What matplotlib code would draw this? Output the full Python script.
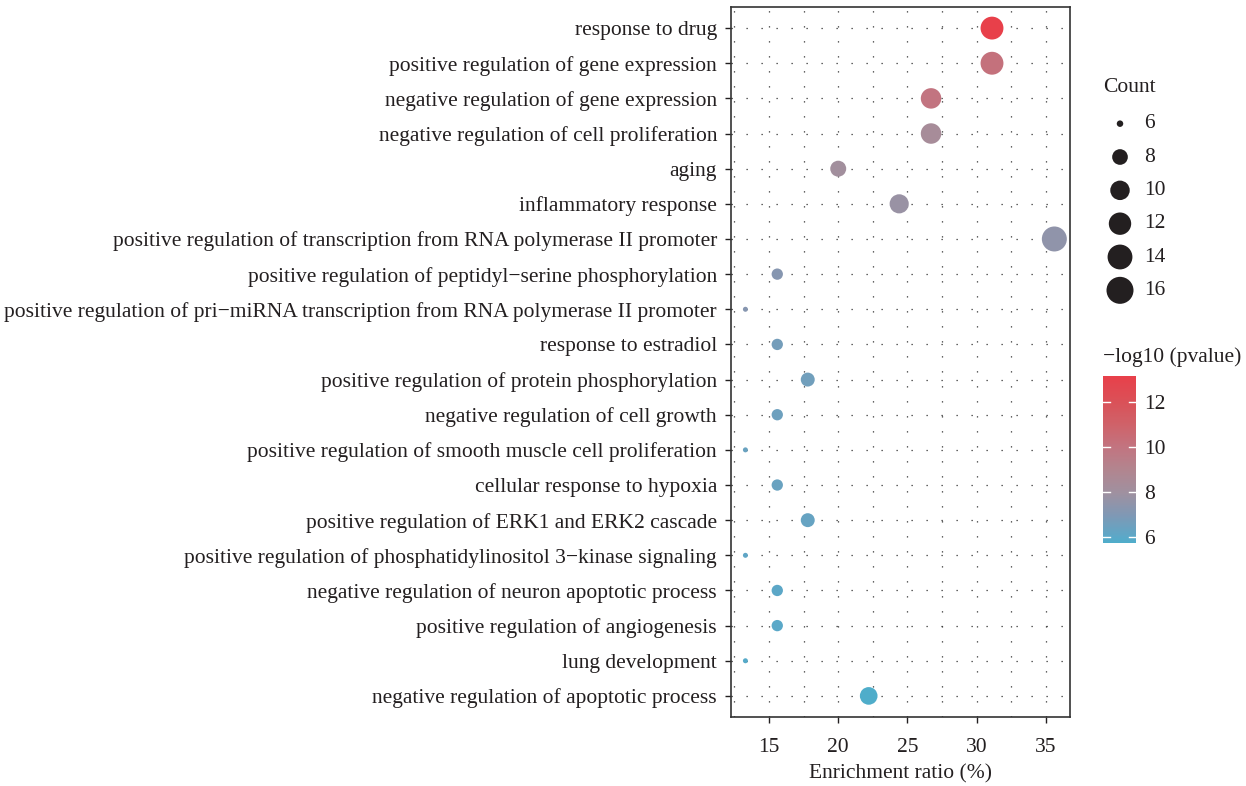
import numpy as np
import matplotlib
matplotlib.use('Agg')
import matplotlib.pyplot as plt
from matplotlib.colors import LinearSegmentedColormap, Normalize

plt.rcParams['font.family'] = ['Liberation Serif', 'DejaVu Serif']
TXT = '#231F20'
FS = 15.5

terms = [
    'response to drug',
    'positive regulation of gene expression',
    'negative regulation of gene expression',
    'negative regulation of cell proliferation',
    'aging',
    'inflammatory response',
    'positive regulation of transcription from RNA polymerase II promoter',
    'positive regulation of peptidyl\u2212serine phosphorylation',
    'positive regulation of pri\u2212miRNA transcription from RNA polymerase II promoter',
    'response to estradiol',
    'positive regulation of protein phosphorylation',
    'negative regulation of cell growth',
    'positive regulation of smooth muscle cell proliferation',
    'cellular response to hypoxia',
    'positive regulation of ERK1 and ERK2 cascade',
    'positive regulation of phosphatidylinositol 3\u2212kinase signaling',
    'negative regulation of neuron apoptotic process',
    'positive regulation of angiogenesis',
    'lung development',
    'negative regulation of apoptotic process',
]
enrich = [31.1, 31.1, 26.7, 26.7, 20.0, 24.4, 35.6, 15.6, 13.3, 15.6,
          17.8, 15.6, 13.3, 15.6, 17.8, 13.3, 15.6, 15.6, 13.3, 22.2]
count = [14, 14, 12, 12, 9, 11, 16, 7, 6, 7, 8, 7, 6, 7, 8, 6, 7, 7, 6, 10]
logp = [13.15, 10.2, 10.0, 8.4, 8.1, 7.8, 7.5, 7.2, 7.2, 6.7,
        6.6, 6.5, 6.4, 6.4, 6.3, 6.1, 6.05, 6.0, 5.9, 5.75]

size_breaks = [6, 8, 10, 12, 14, 16]
cbar_ticks = [6, 8, 10, 12]

# colour stops
stop_vals = [5.75, 6, 7, 8, 9, 10, 11, 12, 13.15]
stop_cols = ['#4FADCA', '#5BA8C8', '#8098B4', '#A0909F', '#B2858F',
             '#C27480', '#CF6269', '#DA5158', '#E8404A']

vmin, vmax = min(logp), max(logp)
cmap = LinearSegmentedColormap.from_list(
    'bluered', [((v - vmin) / (vmax - vmin), c) for v, c in zip(stop_vals, stop_cols)])
norm = Normalize(vmin=vmin, vmax=vmax)


def marker_area(c, dmin=5, dmax=25):
    # ggplot-like area scale: diameter in px, converted to points^2
    d = dmin + (dmax - dmin) * np.sqrt((np.asarray(c, float) - 6) / 10.0)
    return (d * 0.72) ** 2


fig = plt.figure(figsize=(12.46, 7.86), dpi=100)
ax = fig.add_axes([731 / 1246, 1 - 717 / 786, 339 / 1246, 710 / 786])

y = np.arange(len(terms))
ax.set_ylim(len(terms) - 0.4, -0.6)
ax.set_xlim(12.26, 36.73)
ax.set_xticks([15, 20, 25, 30, 35])
ax.set_xticks([12.5, 17.5, 22.5, 27.5, 32.5], minor=True)
ax.set_yticks(y)
ax.set_yticklabels(terms)

gkw = dict(color='#333333', linewidth=0.9, linestyle=(0, (1, 11)), zorder=0)
for v in [12.5, 15, 17.5, 20, 22.5, 25, 27.5, 30, 32.5, 35]:
    ax.axvline(v, **gkw)
for v in y:
    ax.axhline(v, **gkw)

ax.scatter(enrich, y, s=marker_area(count), c=logp, cmap=cmap, norm=norm,
           edgecolors='none', zorder=3)

ax.tick_params(axis='both', which='major', labelsize=FS, colors=TXT,
               length=4, width=1, direction='out')
ax.tick_params(axis='x', which='major', pad=11)
ax.tick_params(axis='y', which='major', pad=6)
ax.tick_params(axis='x', which='minor', length=0)
for s in ax.spines.values():
    s.set_color('#333333')
    s.set_linewidth(1.2)
ax.set_xlabel('Enrichment ratio (%)', fontsize=FS, color=TXT, labelpad=5)

# size legend
fig.text(1103 / 1246, 1 - 88 / 786, 'Count', fontsize=FS, color=TXT, va='center')
lax = fig.add_axes([1100 / 1246, 1 - 307 / 786, 40 / 1246, 200 / 786])
lax.set_xlim(0, 1)
lax.set_ylim(len(size_breaks) - 0.5, -0.5)
lax.axis('off')
ly = np.arange(len(size_breaks))
lax.scatter([0.5] * len(size_breaks), ly, s=marker_area(size_breaks, 6.5, 27),
            color=TXT, edgecolors='none')
for yy, b in zip(ly, size_breaks):
    lax.text(1.1, yy, str(b), fontsize=FS, color=TXT, va='center', ha='left',
             transform=lax.transData, clip_on=False)

# colorbar
fig.text(1103 / 1246, 1 - 357 / 786, '\u2212log10 (pvalue)', fontsize=FS, color=TXT, va='center')
cax = fig.add_axes([1103 / 1246, 1 - 543 / 786, 33 / 1246, 167 / 786])
sm = plt.cm.ScalarMappable(norm=norm, cmap=cmap)
cb = fig.colorbar(sm, cax=cax, ticks=cbar_ticks)
cb.outline.set_visible(False)
cax.tick_params(length=0, labelsize=FS, colors=TXT, pad=6)
for t in cbar_ticks:
    cax.plot([0, 0.2], [t, t], color='white', lw=1)
    cax.plot([0.8, 1], [t, t], color='white', lw=1)
for lab in cax.get_yticklabels():
    lab.set_color(TXT)

fig.savefig('out.png', dpi=100)
